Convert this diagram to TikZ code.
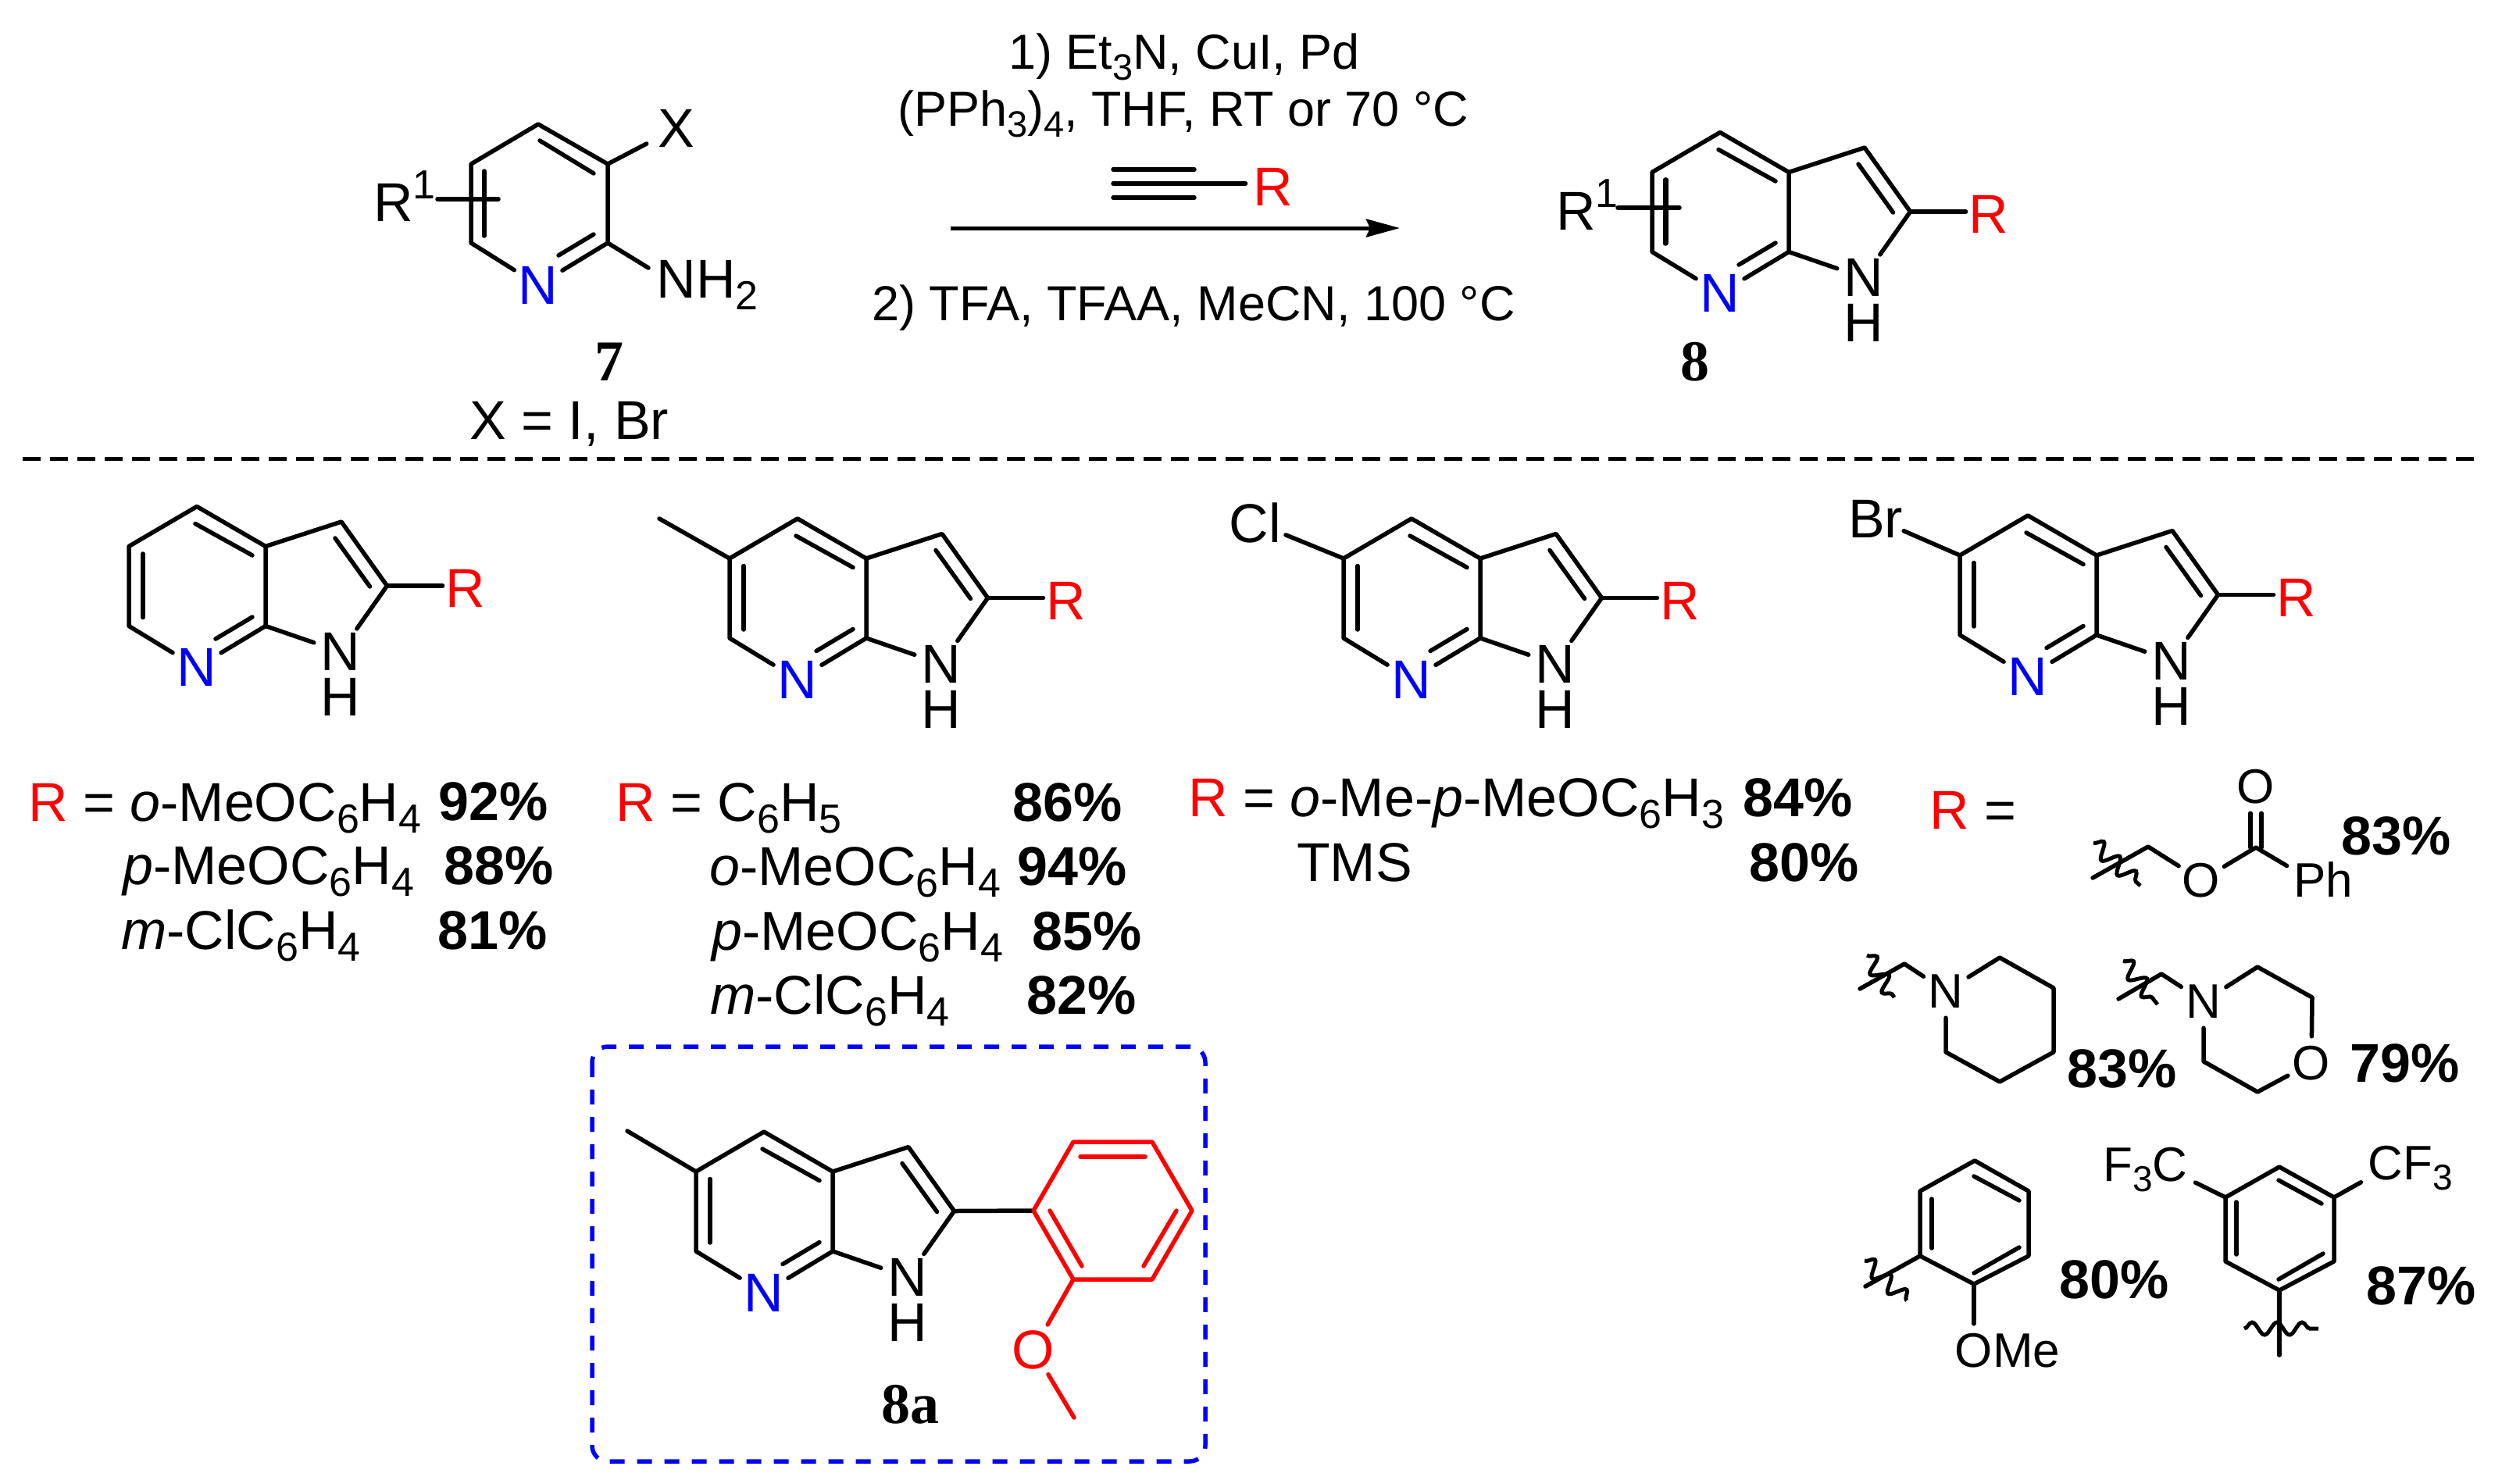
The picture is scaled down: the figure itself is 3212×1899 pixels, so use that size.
\documentclass[tikz,border=0pt]{standalone}
\usepackage{fontspec}
\setmainfont{Liberation Sans}
\newfontfamily\serifbold[BoldFont={Liberation Serif Bold}]{Liberation Serif}
\usetikzlibrary{arrows.meta,decorations.pathmorphing}
\definecolor{rred}{RGB}{255,0,0}
\definecolor{nblue}{RGB}{0,0,255}
\newcommand{\chemsub}[1]{\raisebox{-15pt}{\fontsize{52}{52}\selectfont #1}}
\newcommand{\chemsup}[1]{\raisebox{29pt}{\fontsize{52}{52}\selectfont #1}}
\newcommand{\condsub}[1]{\raisebox{-14pt}{\fontsize{47}{47}\selectfont #1}}
\newcommand{\smallsub}[1]{\raisebox{-13pt}{\fontsize{46}{46}\selectfont #1}}
\tikzset{
  every node/.style={font=\fontsize{70}{84}\selectfont},
  bond/.style={line width=5.5pt,line cap=round,line join=round},
  atom/.style={circle,inner sep=0pt,minimum size=72pt},
  satom/.style={circle,inner sep=0pt,minimum size=68pt,font=\fontsize{62}{74}\selectfont},
  rgroup/.style={inner sep=4pt,text=rred},
  txt/.style={anchor=base west,inner sep=0pt},
  cond/.style={anchor=base west,inner sep=0pt,font=\fontsize{63}{76}\selectfont},
  yld/.style={anchor=base west,inner sep=0pt,font=\fontsize{70}{84}\selectfont\bfseries},
  cpd/.style={inner sep=0pt,font=\fontsize{74}{84}\selectfont\serifbold\bfseries},
  squig/.style={line width=5pt,decorate,decoration={snake,segment length=28pt,amplitude=10pt}},
  squigh/.style={line width=5pt,decorate,decoration={snake,segment length=32pt,amplitude=8pt}},
  dashline/.style={line width=5pt,dash pattern=on 23pt off 12pt},
  boxline/.style={line width=5.5pt,nblue,dash pattern=on 19pt off 16pt,rounded corners=20pt},
}
\newcommand{\azacore}[3]{
  \begin{scope}[shift={(#2,#3)},name prefix=#1-]
    \coordinate (c3a) at (0,0);
    \coordinate (c4) at (-88,-51);
    \coordinate (c5) at (-175,0);
    \coordinate (c6) at (-175,102);
    \coordinate (c7a) at (0,102);
    \coordinate (c3) at (97,-31.5);
    \coordinate (c2) at (155.5,50.5);
    \node[atom,text=nblue] (n7) at (-88,155) {N};
    \node[atom] (n1) at (96,135) {N};
    \node[inner sep=0pt] (h1) at (96,193) {H};
    \draw[bond] (n7) -- (c6) -- (c5) -- (c4) -- (c3a) -- (c7a) -- (n7);
    \draw[bond] (c3a) -- (c3) -- (c2) -- (n1) -- (c7a);
    \draw[bond] (-157,9.5) -- (-157,91);
    \draw[bond] (-90,-29) -- (-17,11.5);
    \draw[bond] (-64,118.5) -- (-17,90.5);
    \draw[bond] (89,-10.5) -- (133.5,51.5);
  \end{scope}
}
\newcommand{\azar}[1]{
  \node[rgroup] (#1-r) at ([shift={(100.5,3.5)}]#1-c2) {R};
  \draw[bond] (#1-c2) -- (#1-c2 -| #1-r.west);
}
\begin{document}
\begin{tikzpicture}[x=1pt,y=-1pt]
  \useasboundingbox (0,0) rectangle (3212,1899);

  \coordinate (s1) at (689,159);
  \coordinate (s2) at (778,210);
  \coordinate (s3) at (778,311);
  \coordinate (s5) at (603,311);
  \coordinate (s6) at (603,210);
  \node[atom,text=nblue] (s4) at (689,365) {N};
  \node[atom,minimum size=86pt] (sx) at (866,164) {X};
  \node[atom,minimum size=84pt] (sn) at (866,365) {N\rlap{H\chemsub{2}}};
  \draw[bond] (s4) -- (s5) -- (s6) -- (s1) -- (s2) -- (s3) -- (s4);
  \draw[bond] (s2) -- (sx);
  \draw[bond] (s3) -- (sn);
  \draw[bond] (691,180) -- (760,222);
  \draw[bond] (715,327) -- (760,300);
  \draw[bond] (620,219) -- (620,302);
  \node[txt] (sr) at (478,283) {R\chemsup{1}};
  \draw[bond] (560,255) -- (638,255);
  \node[cpd] (s7) at (780,463) {7};
  \node[txt] (sxl) at (601,562) {X = I, Br};

  \node[cond] (cond1) at (1291,88) {1) Et\condsub{3}N, CuI, Pd};
  \node[cond] (cond2) at (1149,161) {(PPh\condsub{3})\condsub{4}, THF, RT or 70 °C};
  \node[cond] (cond3) at (1116,410) {2) TFA, TFAA, MeCN, 100 °C};
  \node[rgroup,inner sep=10pt] (ar) at (1630,239) {R};
  \coordinate (al) at (1425,235);
  \draw[bond] (al) -- (ar.west |- al);
  \draw[bond] (1425,217) -- (1529,217);
  \draw[bond] (1425,253) -- (1529,253);
  \coordinate (ra) at (1217,292);
  \coordinate (rb) at (1792,292);
  \draw[line width=5pt,-{Stealth[length=43pt,width=23pt,inset=5pt]}] (ra) -- (rb);

  \azacore{p}{2290}{220.5}
  \azar{p}
  \node[txt] (pr) at (1992,294) {R\chemsup{1}};
  \draw[bond] (2071,266) -- (2150,266);
  \draw[bond] (2132,230) -- (2132,312);
  \node[cpd] (p8) at (2170,463) {8};

  \coordinate (d1) at (29,587);
  \coordinate (d2) at (3178,587);
  \draw[dashline] (d1) -- (d2);

  \azacore{a}{340}{699.5}
  \azar{a}
  \node[txt] (a1) at (36,1051) {\textcolor{rred}{R} = \textit{o}-MeOC\chemsub{6}H\chemsub{4}};
  \node[txt] (a2) at (157,1132) {\textit{p}-MeOC\chemsub{6}H\chemsub{4}};
  \node[txt] (a3) at (155,1215) {\textit{m}-ClC\chemsub{6}H\chemsub{4}};
  \node[yld] (ya1) at (561,1050) {92\%};
  \node[yld] (ya2) at (568,1132) {88\%};
  \node[yld] (ya3) at (560,1215) {81\%};

  \azacore{b}{1109}{715}
  \azar{b}
  \coordinate (bme) at (844,664);
  \draw[bond] (b-c5) -- (bme);
  \node[txt] (b1) at (788,1051) {\textcolor{rred}{R} = C\chemsub{6}H\chemsub{5}};
  \node[txt] (b2) at (908,1133) {\textit{o}-MeOC\chemsub{6}H\chemsub{4}};
  \node[txt] (b3) at (911,1216) {\textit{p}-MeOC\chemsub{6}H\chemsub{4}};
  \node[txt] (b4) at (909,1298) {\textit{m}-ClC\chemsub{6}H\chemsub{4}};
  \node[yld] (yb1) at (1296,1051) {86\%};
  \node[yld] (yb2) at (1302,1133) {94\%};
  \node[yld] (yb3) at (1321,1216) {85\%};
  \node[yld] (yb4) at (1314,1298) {82\%};

  \azacore{c}{1895}{715}
  \azar{c}
  \node[atom] (ccl) at (1607,669) {Cl};
  \draw[bond] (c-c5) -- (ccl);
  \node[txt] (c1) at (1521,1045) {\textcolor{rred}{R} = \textit{o}-Me-\textit{p}-MeOC\chemsub{6}H\chemsub{3}};
  \node[txt] (c2) at (1660,1128) {TMS};
  \node[yld] (yc1) at (2231,1045) {84\%};
  \node[yld] (yc2) at (2239,1128) {80\%};

  \azacore{d}{2684}{711}
  \azar{d}
  \node[inner sep=1pt] (dbr) at (2401,664) {Br};
  \draw[bond] (d-c5) -- (dbr);
  \node[txt] (d0) at (2470,1061) {\textcolor{rred}{R} =};

  \coordinate (e0) at (2679,1124);
  \coordinate (e1) at (2750,1084);
  \coordinate (e2) at (2888,1085);
  \node[satom] (eo) at (2818,1127) {O};
  \node[satom] (eco) at (2888,1007) {O};
  \node[satom] (eph) at (2957,1126) {P\rlap{h}};
  \draw[bond] (e0) -- (e1) -- (eo) -- (e2) -- (eph);
  \draw[bond] ([xshift=-7pt]e2) -- ([xshift=-7pt]eco.south);
  \draw[bond] ([xshift=7pt]e2) -- ([xshift=7pt]eco.south);
  \draw[squig] (2680,1079) -- (2740,1134);
  \node[yld] (ye) at (2997,1094) {83\%};

  \coordinate (f0) at (2381,1266);
  \coordinate (f1) at (2438,1234);
  \coordinate (f2) at (2560,1226);
  \coordinate (f3) at (2629,1265);
  \coordinate (f4) at (2629,1347);
  \coordinate (f5) at (2560,1385);
  \coordinate (f6) at (2491,1347);
  \node[satom] (fn) at (2491,1269) {N};
  \draw[bond] (f0) -- (f1) -- (fn);
  \draw[bond] (fn) -- (f2) -- (f3) -- (f4) -- (f5) -- (f6) -- (fn);
  \draw[squig] (2390,1223) -- (2425,1277);
  \node[yld] (yf) at (2646,1392) {83\%};

  \coordinate (g0) at (2712,1279);
  \coordinate (g1) at (2767,1247);
  \coordinate (g2) at (2890,1238);
  \coordinate (g3) at (2960,1277);
  \coordinate (g5) at (2890,1398);
  \coordinate (g6) at (2821,1359);
  \node[satom] (gn) at (2821,1282) {N};
  \node[satom] (go) at (2959,1361) {O};
  \draw[bond] (g0) -- (g1) -- (gn);
  \draw[bond] (gn) -- (g2) -- (g3) -- (go) -- (g5) -- (g6) -- (gn);
  \draw[squig] (2718,1230) -- (2762,1286);
  \node[yld] (yg) at (3008,1385) {79\%};

  \coordinate (h0) at (2388,1647);
  \coordinate (h1) at (2458,1608);
  \coordinate (h2) at (2458,1525);
  \coordinate (h3) at (2528,1486);
  \coordinate (h4) at (2597,1525);
  \coordinate (h5) at (2597,1608);
  \coordinate (h6) at (2527,1644);
  \node[satom] (ho) at (2527,1729) {O\rlap{Me}};
  \draw[bond] (h1) -- (h2) -- (h3) -- (h4) -- (h5) -- (h6) -- cycle;
  \draw[bond] (h0) -- (h1);
  \draw[bond] (h6) -- (ho);
  \draw[bond] (2473,1535) -- (2473,1598);
  \draw[bond] (2527,1506) -- (2585,1537);
  \draw[bond] (2527,1630) -- (2585,1597);
  \draw[squig] (2387,1614) -- (2441,1665);
  \node[yld] (yh) at (2636,1662) {80\%};

  \coordinate (k1) at (2918,1494);
  \coordinate (k2) at (2988,1533);
  \coordinate (k3) at (2988,1615);
  \coordinate (k4) at (2918,1652);
  \coordinate (k5) at (2849,1615);
  \coordinate (k6) at (2849,1533);
  \coordinate (k7) at (2918,1735);
  \node[satom,minimum size=64pt] (kl) at (2778,1498) {\llap{F\smallsub{3}}C};
  \node[satom,minimum size=64pt] (kr) at (3054,1496) {C\rlap{F\smallsub{3}}};
  \draw[bond] (k1) -- (k2) -- (k3) -- (k4) -- (k5) -- (k6) -- cycle;
  \draw[bond] (k6) -- (kl);
  \draw[bond] (k2) -- (kr);
  \draw[bond] (k4) -- (k7);
  \draw[bond] (2917,1511) -- (2972,1541);
  \draw[bond] (2863,1539) -- (2863,1606);
  \draw[bond] (2917,1638) -- (2974,1605);
  \draw[squigh] (2873,1701) -- (2968,1701);
  \node[yld] (yk) at (3029,1670) {87\%};

  \draw[boxline] (758,1340) rectangle (1543,1871);
  \azacore{m}{1066}{1500}
  \coordinate (mme) at (803,1448);
  \draw[bond] (m-c5) -- (mme);
  \coordinate (q1) at (1323,1550);
  \coordinate (q2) at (1374,1462);
  \coordinate (q3) at (1475,1462);
  \coordinate (q4) at (1526,1550);
  \coordinate (q5) at (1475,1638);
  \coordinate (q6) at (1374,1638);
  \coordinate (q7) at (1375,1815);
  \node[atom,text=rred] (qo) at (1323,1728) {O};
  \draw[bond] (m-c2) -- (q1);
  \draw[bond,rred] (q1) -- (q2) -- (q3) -- (q4) -- (q5) -- (q6) -- cycle;
  \draw[bond,rred] (1344,1550) -- (1385,1621);
  \draw[bond,rred] (1383,1481) -- (1466,1481);
  \draw[bond,rred] (1506,1550) -- (1464,1621);
  \draw[bond,rred] (q6) -- (qo) -- (q7);
  \node[cpd] (m8a) at (1165,1798) {8a};
\end{tikzpicture}
\end{document}
